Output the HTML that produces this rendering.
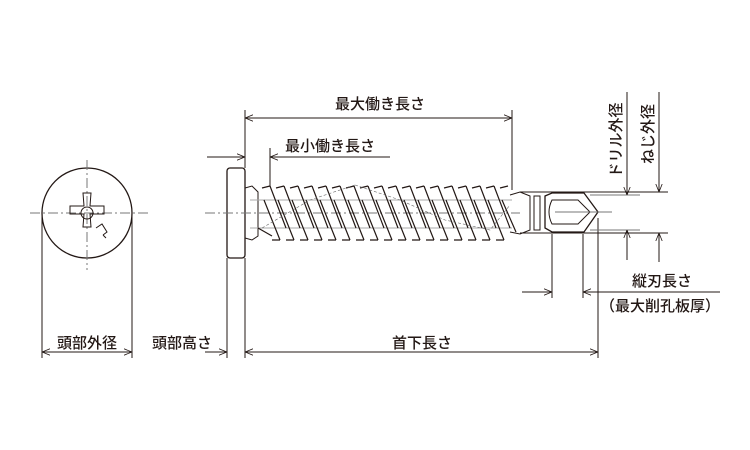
<!DOCTYPE html>
<html><head><meta charset="utf-8"><style>
html,body{margin:0;padding:0;background:#fff;}
svg{display:block}
text{font-family:"Liberation Sans","Noto Sans CJK JP",sans-serif;font-size:15px;font-weight:500;fill:#231815}
</style></head><body>
<svg width="750" height="450" viewBox="0 0 750 450" xmlns="http://www.w3.org/2000/svg">
<defs>
<marker id="a" viewBox="0 0 10 10" refX="10" refY="5" markerWidth="8" markerHeight="8" orient="auto-start-reverse" markerUnits="userSpaceOnUse"><path d="M0,1 L10,5 L0,9" fill="none" stroke="#231815" stroke-width="1"/></marker>
</defs>
<g stroke="#231815" stroke-width="1" fill="none">
<circle cx="87" cy="213" r="45" stroke-width="1.3"/>
<line x1="30" y1="213" x2="150" y2="213" stroke="#777" stroke-dasharray="10,3,2,3"/>
<line x1="87" y1="160" x2="87" y2="270" stroke="#777" stroke-dasharray="10,3,2,3"/>
<path d="M83,193 h8 l-1,13 h14 v8 h-14 l1,13 h-8 l1,-13 h-14 v-8 h14z" stroke-width="1"/>
<circle cx="87" cy="213" r="6"/>
<path d="M96,228 l6,-4 l5,8 l-4,3 M103,235 l3,3" />
<line x1="42" y1="213" x2="42" y2="358"/>
<line x1="132" y1="213" x2="132" y2="358"/>
<line x1="42" y1="352" x2="132" y2="352" marker-start="url(#a)" marker-end="url(#a)"/>
<rect x="227" y="168" width="18" height="90" rx="3" stroke-width="1.3"/>
<line x1="205" y1="213" x2="520" y2="213" stroke="#777" stroke-dasharray="10,3,2,3"/>
<path d="M245,188 L252,186 L258,192 L258,236 L252,240 L245,238" />
<line x1="250" y1="200" x2="512" y2="200" stroke="#aaa"/>
<line x1="250" y1="228" x2="512" y2="228" stroke="#aaa"/>
<g stroke-width="1.2">
<path d="M258,228 L272,236 M270,186 L286,228 M284,186 L300,228 M298,186 L314,228 M312,186 L328,228 M326,186 L342,228 M340,186 L356,228 M354,186 L370,228 M368,186 L384,228 M382,186 L398,228 M396,186 L412,228 M410,186 L426,228 M424,186 L440,228 M438,186 L454,228 M452,186 L468,228 M466,186 L482,228 M480,186 L496,228 M494,186 L510,228"/>
<path d="M264,200 L280,240 M278,200 L294,240 M292,200 L308,240 M306,200 L322,240 M320,200 L336,240 M334,200 L350,240 M348,200 L364,240 M362,200 L378,240 M376,200 L392,240 M390,200 L406,240 M404,200 L420,240 M418,200 L434,240 M432,200 L448,240 M446,200 L462,240 M460,200 L476,240 M474,200 L490,240 M488,200 L504,240 M502,200 L516,232"/>
<path d="M262,188 L270,186 M276,188 L284,186 M290,188 L298,186 M304,188 L312,186 M318,188 L326,186 M332,188 L340,186 M346,188 L354,186 M360,188 L368,186 M374,188 L382,186 M388,188 L396,186 M402,188 L410,186 M416,188 L424,186 M430,188 L438,186 M444,188 L452,186 M458,188 L466,186 M472,188 L480,186 M486,188 L494,186 M500,188 L508,186"/>
<path d="M272,240 L280,240 M286,240 L294,240 M300,240 L308,240 M314,240 L322,240 M328,240 L336,240 M342,240 L350,240 M356,240 L364,240 M370,240 L378,240 M384,240 L392,240 M398,240 L406,240 M412,240 L420,240 M426,240 L434,240 M440,240 L448,240 M454,240 L462,240 M468,240 L476,240 M482,240 L490,240 M496,240 L504,240"/>
</g>
<path d="M262,228 L310,200 L355,185 M355,185 L400,200 L445,220 L490,230 L510,205" stroke-width="0.6" stroke="#666" stroke-dasharray="3,2"/>
<path d="M510,195 L520,192 L530,196 L530,230 L520,234 L510,232"/>
<path d="M534,196 L540,196 L540,230 L534,230z"/>
<path d="M545,196 L552,193 L584,193 L598,212 L584,232 L552,232 L545,228 Z" stroke-width="1.3"/>
<path d="M552,200 L578,200 L590,212 L578,224 L552,224 Q546,212 552,200 Z"/>
<line x1="555" y1="212" x2="612" y2="212" stroke="#777"/>
<line x1="245" y1="110" x2="245" y2="168"/>
<line x1="512" y1="110" x2="512" y2="190"/>
<line x1="245" y1="118" x2="512" y2="118" marker-start="url(#a)" marker-end="url(#a)"/>
<line x1="270" y1="148" x2="270" y2="186"/>
<line x1="207" y1="157" x2="245" y2="157" marker-end="url(#a)"/>
<line x1="390" y1="157" x2="270" y2="157" marker-end="url(#a)"/>
<line x1="227" y1="258" x2="227" y2="358"/>
<line x1="245" y1="258" x2="245" y2="358"/>
<line x1="205" y1="352" x2="227" y2="352" marker-end="url(#a)"/>
<line x1="245" y1="352" x2="598" y2="352" marker-start="url(#a)" marker-end="url(#a)"/>
<line x1="598" y1="218" x2="598" y2="358"/>
<line x1="590" y1="195" x2="640" y2="195" stroke="#777"/>
<line x1="590" y1="230" x2="640" y2="230" stroke="#777"/>
<line x1="520" y1="192" x2="668" y2="192"/>
<line x1="520" y1="233" x2="668" y2="233"/>
<line x1="627" y1="92" x2="627" y2="195" marker-end="url(#a)"/>
<line x1="627" y1="260" x2="627" y2="230" marker-end="url(#a)"/>
<line x1="659" y1="92" x2="659" y2="192" marker-end="url(#a)"/>
<line x1="659" y1="262" x2="659" y2="233" marker-end="url(#a)"/>
<line x1="552" y1="234" x2="552" y2="298"/>
<line x1="583" y1="234" x2="583" y2="298"/>
<line x1="522" y1="292" x2="552" y2="292" marker-end="url(#a)"/>
<line x1="720" y1="292" x2="583" y2="292" marker-end="url(#a)"/>
<line x1="598" y1="292" x2="598" y2="320"/>
</g>
<text x="380" y="109" text-anchor="middle">最大働き長さ</text>
<text x="330" y="151" text-anchor="middle">最小働き長さ</text>
<text x="87" y="348" text-anchor="middle">頭部外径</text>
<text x="182" y="348" text-anchor="middle">頭部高さ</text>
<text x="422" y="348" text-anchor="middle">首下長さ</text>
<text x="662" y="286" text-anchor="middle">縦刃長さ</text>
<text x="660" y="311" text-anchor="middle">（最大削孔板厚）</text>
<text transform="translate(621,140) rotate(-90)" text-anchor="middle">ドリル外径</text>
<text transform="translate(653,134) rotate(-90)" text-anchor="middle">ねじ外径</text>
</svg>
</body></html>
